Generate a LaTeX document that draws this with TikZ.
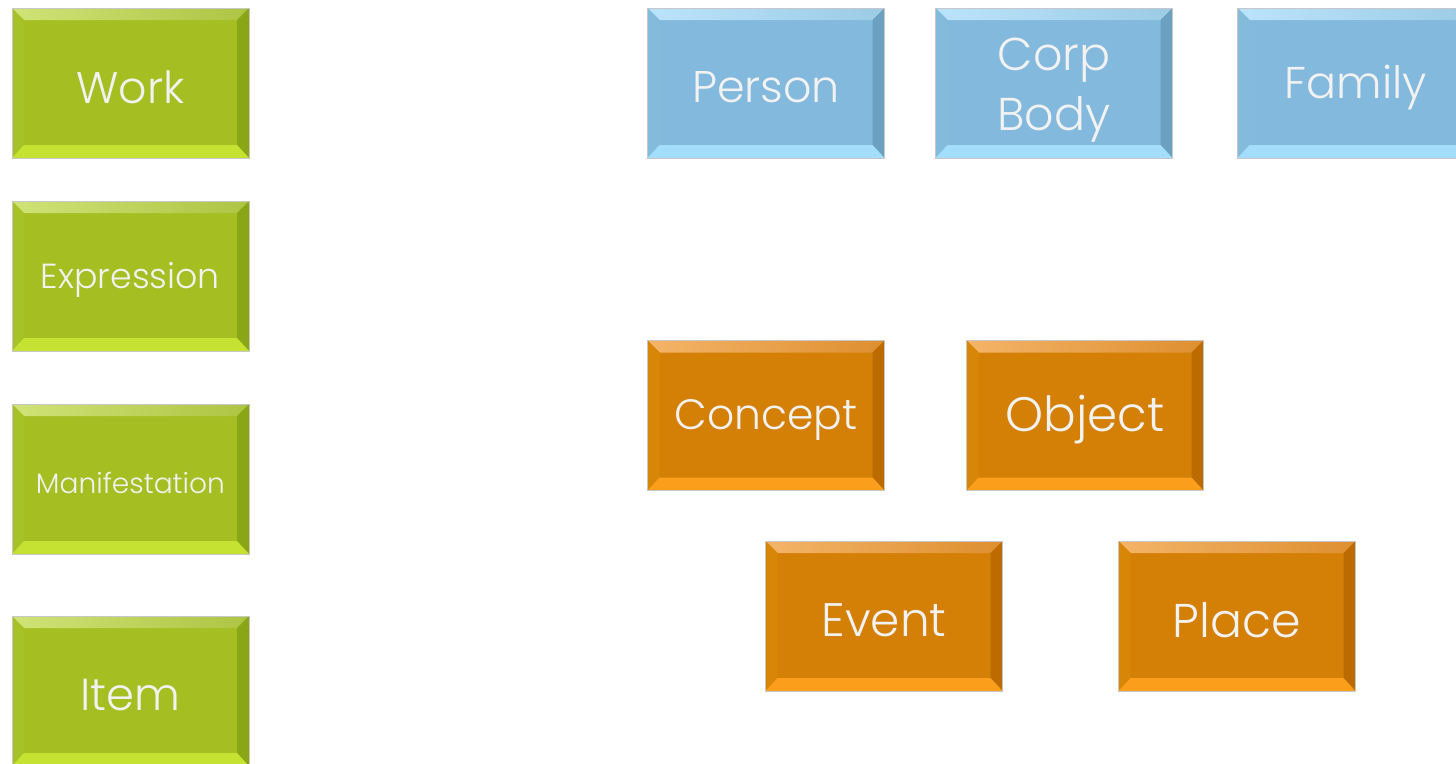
\documentclass[tikz,border=0pt]{standalone}
\usepackage{fontspec}
\usepackage{graphicx}
\newfontfamily\boxfont{Poppins}[UprightFont={* Light}]
\definecolor{boxtext}{HTML}{F2F2F2}
\definecolor{gface}{HTML}{A5BF22}\definecolor{gtopl}{HTML}{CFE377}\definecolor{gtopr}{HTML}{ADC443}
\definecolor{gleft}{HTML}{A7C226}\definecolor{gright}{HTML}{8AA616}\definecolor{gbot}{HTML}{C5E232}
\definecolor{bface}{HTML}{82B9DC}\definecolor{btopl}{HTML}{BAE4FB}\definecolor{btopr}{HTML}{9CCBE6}
\definecolor{bleft}{HTML}{84BBDD}\definecolor{bright}{HTML}{6BA0C0}\definecolor{bbot}{HTML}{A2DEFC}
\definecolor{oface}{HTML}{D47F05}\definecolor{otopl}{HTML}{F4B468}\definecolor{otopr}{HTML}{DE8F30}
\definecolor{oleft}{HTML}{D88608}\definecolor{oright}{HTML}{BB6B00}\definecolor{obot}{HTML}{FA9E1C}
\tikzset{
  bevelbox/.style n args={6}{rectangle, minimum width=237pt, minimum height=150pt, inner sep=0pt,
    draw=black!22, line width=0.8pt, text=boxtext, font=\boxfont,
    path picture={
      \coordinate (NW) at (path picture bounding box.north west);
      \coordinate (NE) at (path picture bounding box.north east);
      \coordinate (SW) at (path picture bounding box.south west);
      \coordinate (SE) at (path picture bounding box.south east);
      \fill[#1] (SW) rectangle (NE);
      \shade[left color=#2, right color=#3] (NW) -- (NE) -- ([shift={(-12pt,-12pt)}]NE) -- ([shift={(12pt,-12pt)}]NW) -- cycle;
      \fill[#4] (NW) -- ([shift={(12pt,-12pt)}]NW) -- ([shift={(12pt,13pt)}]SW) -- (SW) -- cycle;
      \fill[#5] (NE) -- ([shift={(-12pt,-12pt)}]NE) -- ([shift={(-12pt,13pt)}]SE) -- (SE) -- cycle;
      \fill[#6] (SW) -- ([shift={(12pt,13pt)}]SW) -- ([shift={(-12pt,13pt)}]SE) -- (SE) -- cycle;
    }},
  greenbox/.style={bevelbox={gface}{gtopl}{gtopr}{gleft}{gright}{gbot}},
  bluebox/.style={bevelbox={bface}{btopl}{btopr}{bleft}{bright}{bbot}},
  orangebox/.style={bevelbox={oface}{otopl}{otopr}{oleft}{oright}{obot}},
}
\newcommand\lowerby[2]{\raisebox{0pt}[\dimexpr\height+#1\relax]{#2}}
\newcommand\fitw[2]{\lowerby{8pt}{\resizebox{#1pt}{!}{#2}}}
\begin{document}
\begin{tikzpicture}[x=1pt,y=-1pt]
\useasboundingbox[fill=white] (0,0) rectangle (1456,763);
\node[greenbox] (work) at (130.5,83) {\fitw{108}{Work}};
\node[greenbox] (expression) at (130.5,276) {\fitw{179}{Expression}};
\node[greenbox] (manifestation) at (130.5,479) {\fitw{189}{Manifestation}};
\node[greenbox] (item) at (130.5,691) {\fitw{100}{Item}};
\node[bluebox] (person) at (766,83) {\fitw{148}{Person}};
\node[bluebox, font=\boxfont\fontsize{46}{60}\selectfont] (corp) at (1054,83)
  {\lowerby{10pt}{\begin{tabular}{@{}c@{}}Corp\\Body\end{tabular}}};
\node[bluebox] (family) at (1356,83) {\fitw{142}{Family}};
\node[orangebox] (concept) at (766,415.5) {\fitw{183}{Concept}};
\node[orangebox] (object) at (1085,415.5) {\fitw{159}{Object}};
\node[orangebox] (event) at (884,616) {\fitw{125}{Event}};
\node[orangebox] (place) at (1237,616) {\fitw{128}{Place}};
\end{tikzpicture}
\end{document}
